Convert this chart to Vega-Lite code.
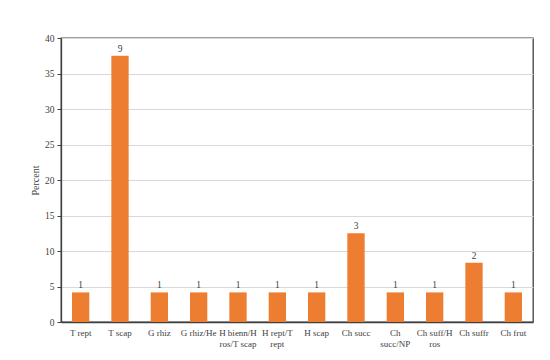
{
  "$schema": "https://vega.github.io/schema/vega-lite/v6.json",
  "autosize": {"type": "none"},
  "width": 472,
  "height": 284,
  "padding": {"left": 61, "top": 38, "right": 17, "bottom": 38},
  "background": "white",
  "config": {
    "font": "Liberation Serif",
    "view": {"stroke": "#404040", "strokeWidth": 1.3},
    "axis": {"labelFont": "Liberation Serif", "titleFont": "Liberation Serif", "labelColor": "#404040", "titleColor": "#404040"}
  },
  "data": {
    "values": [
      {"form": "T rept", "percent": 4.17, "n": 1},
      {"form": "T scap", "percent": 37.5, "n": 9},
      {"form": "G rhiz", "percent": 4.17, "n": 1},
      {"form": "G rhiz/He", "percent": 4.17, "n": 1},
      {"form": "H bienn/H ros/T scap", "percent": 4.17, "n": 1},
      {"form": "H rept/T rept", "percent": 4.17, "n": 1},
      {"form": "H scap", "percent": 4.17, "n": 1},
      {"form": "Ch succ", "percent": 12.5, "n": 3},
      {"form": "Ch succ/NP", "percent": 4.17, "n": 1},
      {"form": "Ch suff/H ros", "percent": 4.17, "n": 1},
      {"form": "Ch suffr", "percent": 8.33, "n": 2},
      {"form": "Ch frut", "percent": 4.17, "n": 1}
    ]
  },
  "encoding": {
    "x": {
      "field": "form", "type": "nominal", "sort": null,
      "scale": {"paddingInner": 0.56, "paddingOuter": 0.28},
      "axis": {
        "title": null, "labelAngle": 0, "ticks": false, "domain": true, "domainColor": "#404040", "domainWidth": 1.3,
        "labelFontSize": 9, "labelPadding": 6, "labelLineHeight": 11,
        "labelExpr": "datum.label == 'H bienn/H ros/T scap' ? ['H bienn/H', 'ros/T scap'] : datum.label == 'H rept/T rept' ? ['H rept/T', 'rept'] : datum.label == 'Ch succ/NP' ? ['Ch', 'succ/NP'] : datum.label == 'Ch suff/H ros' ? ['Ch suff/H', 'ros'] : datum.label"
      }
    },
    "y": {
      "field": "percent", "type": "quantitative",
      "scale": {"domain": [0, 40], "nice": false},
      "axis": {
        "title": "Percent", "titleFontSize": 10, "titleFontWeight": "normal", "titlePadding": 4,
        "values": [0, 5, 10, 15, 20, 25, 30, 35, 40],
        "labelFontSize": 9.5, "tickSize": 4, "tickColor": "#404040",
        "domainColor": "#404040", "domainWidth": 1.3, "gridColor": "#d9d9d9", "grid": true, "labelPadding": 3
      }
    }
  },
  "layer": [
    {"mark": {"type": "bar", "color": "#ED7D31"}},
    {
      "mark": {"type": "text", "dy": -7, "fontSize": 9.5, "color": "#404040", "font": "Liberation Serif"},
      "encoding": {"text": {"field": "n", "type": "quantitative"}}
    }
  ]
}
